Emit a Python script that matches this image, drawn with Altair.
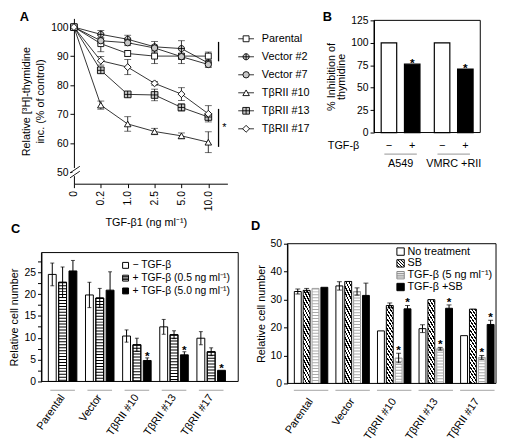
import altair as alt
import pandas as pd

FONT = "Liberation Sans"

# ---------------- Panel A data ----------------
doses = ["0", "0.2", "1.0", "2.5", "5.0", "10.0"]
series_a = ["Parental", "Vector #2", "Vector #7", "TβRII #10", "TβRII #13", "TβRII #17"]
parental = [100, 94.3, 90.9, 90.0, 90.0, 90.0]
parental_err = [0, 2.8, 1.0, 2.6, 2.6, 1.4]
vector2 = [100, 97.5, 95.8, 93.2, 92.6, 87.6]
vector2_err = [0, 1.3, 1.4, 1.8, 2.7, 1.0]
vector7 = [100, 95.3, 94.6, 92.8, 89.8, 87.1]
vector7_err = [0, 1.0, 1.0, 1.0, 1.0, 1.0]
rii10 = [100, 73.1, 66.6, 64.0, 62.5, 60.3]
rii10_err = [0, 1.4, 2.5, 1.1, 1.0, 3.6]
rii13 = [100, 85.1, 76.8, 76.6, 72.3, 69.0]
rii13_err = [0, 0.8, 0.8, 2.0, 1.2, 0.8]
rii17 = [100, 88.4, 86.2, 80.6, 76.9, 70.1]
rii17_err = [0, 1.5, 2.6, 0.6, 2.2, 2.8]
sig_lo = [88.2, 58.7]
sig_hi = [94.9, 71.8]
break_lo = [49.7, 48.0]
break_hi = [52.0, 50.3]

# ---------------- Panel B data ----------------
b_groups = ["A549", "VMRC +RII"]
b_signs = ["−", "+"]
b_minus = [100, 100]
b_plus = [76.2, 70.7]

# ---------------- Panel C data ----------------
c_groups = ["Parental", "Vector", "TβRII #10", "TβRII #13", "TβRII #17"]
c_legend = ["− TGF-β", "+ TGF-β (0.5 ng ml⁻¹)", "+ TGF-β (5.0 ng ml⁻¹)"]
c_none = [24.5, 19.8, 10.4, 12.5, 9.9]
c_none_err = [2.6, 2.9, 1.4, 1.7, 1.5]
c_low = [22.7, 19.1, 8.4, 10.7, 6.8]
c_low_err = [3.5, 2.2, 1.5, 0.9, 0.9]
c_high = [25.3, 20.9, 4.8, 6.1, 2.55]
c_high_err = [2.4, 4.2, 0.6, 0.7, 0.0]
c_high_star = [0, 0, 1, 1, 1]

# ---------------- Panel D data ----------------
d_groups = ["Parental", "Vector", "TβRII #10", "TβRII #13", "TβRII #17"]
d_legend = ["No treatment", "SB", "TGF-β (5 ng ml⁻¹)", "TGF-β +SB"]
d_none = [32.9, 34.9, 18.8, 19.6, 17.1]
d_none_err = [0.9, 1.5, 0, 1.4, 0]
d_sb = [33.3, 36.5, 27.9, 30.0, 26.6]
d_sb_err = [0.7, 0, 0.9, 0, 0]
d_tgf = [34.0, 32.9, 9.1, 12.4, 9.3]
d_tgf_err = [0, 1.3, 1.7, 0.5, 0.7]
d_both = [34.4, 31.5, 26.7, 26.9, 21.1]
d_both_err = [0, 4.4, 1.2, 1.2, 1.5]
d_star = [0, 0, 1, 1, 1]

# ---------------- layout (pixels inside the single canvas) ----------------
W, H = 489, 429
A_BOX = (64, 220, 7, 175)      # left, right, top, bottom
B_BOX = (369, 477, 9, 123)
C_BOX = (31, 231, 245, 376)
D_BOX = (281, 493, 236, 378)

CIRCLE_CROSS = "M-1,0A1,1,0,1,1,1,0A1,1,0,1,1,-1,0ZM-1,0H1M0,-1V1"
SQUARE_CROSS = "M-1,-1H1V1H-1ZM-1,0H1M0,-1V1"
STRIPE_SQ = "M-1,-1H1V1H-1ZM-1,-0.5H1M-1,0H1M-1,0.5H1"
shapes_a = ["square", CIRCLE_CROSS, "circle", "triangle-up", SQUARE_CROSS, "diamond"]
fills_a = ["white", "#c8c8c8", "#c8c8c8", "white", "#c8c8c8", "white"]
sizes_a = [36, 49, 30, 42, 40, 64]


def one():
    return pd.DataFrame({"k": [0]})


def label(txt, x, y, size=13, bold=True, align="left", baseline="top"):
    return alt.Chart(one()).mark_text(text=txt, fontSize=size, fontWeight="bold" if bold else "normal",
                                      align=align, baseline=baseline).encode(
        x=alt.value(x), y=alt.value(y))


def frame(box):
    l, r, t, b = box
    return alt.Chart(one()).mark_rect(fill="transparent", stroke="black", strokeWidth=1).encode(
        x=alt.value(l), x2=alt.value(r), y=alt.value(t), y2=alt.value(b))


def diag_gradient(n, duty=0.42):
    stops = []
    for k in range(n):
        a, b, c = k / n, (k + duty) / n, (k + 1) / n
        stops += [{"offset": a, "color": "black"}, {"offset": b, "color": "black"},
                  {"offset": b, "color": "white"}, {"offset": min(c, 1.0), "color": "white"}]
    return {"gradient": "linear", "x1": 1, "y1": 0, "x2": 0, "y2": 1, "stops": stops}


# ================= Panel A =================
rows = []
for name, vals, errs in zip(series_a,
                            [parental, vector2, vector7, rii10, rii13, rii17],
                            [parental_err, vector2_err, vector7_err, rii10_err, rii13_err, rii17_err]):
    for d, v, e in zip(doses, vals, errs):
        rows.append({"series": name, "dose": d, "value": v, "err": e, "lo": v - e, "hi": v + e})
df_a = pd.DataFrame(rows)

xA = alt.X("dose:N", sort=doses,
           scale=alt.Scale(type="point", domain=doses, range=[A_BOX[0], A_BOX[1]], padding=0.355, align=0),
           axis=alt.Axis(orient="bottom", offset=-(H - A_BOX[3]), title="TGF-β1 (ng ml⁻¹)", labelAngle=270,
                         labelPadding=3, titleX=137, titleY=33, titleBaseline="top"))
scaleA = alt.Scale(domain=[46, 103], range=[A_BOX[3], A_BOX[2]], nice=False, zero=False)
axisA = alt.Axis(orient="left", offset=-A_BOX[0], values=[50, 60, 70, 80, 90, 100],
                 title=["Relative [³H]-thymidine", "inc. (% of control)"],
                 titlePadding=5, titleLineHeight=15)


def yA(field):
    return alt.Y(field, scale=scaleA, axis=axisA)


shapeA = alt.Shape("series:N", scale=alt.Scale(domain=series_a, range=shapes_a), legend=None)
fillA = alt.Fill("series:N", scale=alt.Scale(domain=series_a, range=fills_a), legend=None)
sizeA = alt.Size("series:N", scale=alt.Scale(domain=series_a, range=sizes_a), legend=None)

baseA = alt.Chart(df_a)
errA = baseA.transform_filter("datum.err > 0")
a_layers = [
    baseA.mark_line(color="black", strokeWidth=0.8).encode(x=xA, y=yA("value:Q"), detail="series:N"),
    errA.mark_rule(color="black", strokeWidth=0.8).encode(x=xA, y=yA("lo:Q"), y2="hi:Q"),
    errA.mark_tick(orient="horizontal", size=7, thickness=0.8, color="black").encode(x=xA, y=yA("lo:Q")),
    errA.mark_tick(orient="horizontal", size=7, thickness=0.8, color="black").encode(x=xA, y=yA("hi:Q")),
    baseA.mark_point(opacity=1, stroke="black", strokeWidth=0.9).encode(
        x=xA, y=yA("value:Q"), shape=shapeA, fill=fillA, size=sizeA),
    alt.Chart(pd.DataFrame({"lo": sig_lo, "hi": sig_hi})).mark_rule(color="black", strokeWidth=1.3).encode(
        x=alt.value(211), y=yA("lo:Q"), y2="hi:Q"),
    alt.Chart(pd.DataFrame({"v": [65.2]})).mark_text(text="*", fontSize=11, baseline="middle").encode(
        x=alt.value(217), y=yA("v:Q")),
    alt.Chart(pd.DataFrame({"lo": [48.6], "hi": [51.4]})).mark_rule(color="white", strokeWidth=3).encode(
        x=alt.value(A_BOX[0]), y=yA("lo:Q"), y2="hi:Q"),
    alt.Chart(pd.DataFrame({"lo": break_lo, "hi": break_hi})).mark_rule(color="black", strokeWidth=0.9).encode(
        x=alt.value(A_BOX[0] - 4), x2=alt.value(A_BOX[0] + 6), y=yA("lo:Q"), y2="hi:Q"),
    label("A", 9, 0),
]
panel_a = alt.layer(*a_layers)

# legend for A
leg_df = pd.DataFrame({"series": series_a})
yL = alt.Y("series:N", sort=series_a,
           scale=alt.Scale(type="point", domain=series_a, range=[27.7, 119.2], padding=0), axis=None)
legend_a = alt.layer(
    alt.Chart(leg_df).mark_rule(color="black", strokeWidth=0.8).encode(x=alt.value(231), x2=alt.value(247), y=yL),
    alt.Chart(leg_df).mark_point(opacity=1, stroke="black", strokeWidth=0.9).encode(
        x=alt.value(239), y=yL, shape=shapeA, fill=fillA, size=sizeA),
    alt.Chart(leg_df).mark_text(align="left", baseline="middle", fontSize=11).encode(
        x=alt.value(255), y=yL, text="series:N"),
)

# ================= Panel B =================
rows = []
for g, m, p in zip(b_groups, b_minus, b_plus):
    rows.append({"group": g, "sign": b_signs[0], "value": m})
    rows.append({"group": g, "sign": b_signs[1], "value": p})
df_b = pd.DataFrame(rows)
xB = alt.X("group:N", sort=b_groups,
           scale=alt.Scale(domain=b_groups, range=[B_BOX[0], B_BOX[1]], paddingInner=0.27, paddingOuter=0.135),
           axis=None)
xoB = alt.XOffset("sign:N", scale=alt.Scale(domain=b_signs, paddingInner=0.333, paddingOuter=0))
yB = alt.Y("value:Q", scale=alt.Scale(domain=[0, 125], range=[B_BOX[3], B_BOX[2]], nice=False),
           axis=alt.Axis(orient="left", offset=-B_BOX[0], values=[0, 25, 50, 75, 100, 125],
                         title=["% Inhibition of", "thymidine"], titlePadding=4, titleLineHeight=11))
baseB = alt.Chart(df_b)
grp_b = pd.DataFrame({"group": b_groups})
panel_b = alt.layer(
    baseB.transform_filter(alt.datum.sign == b_signs[0]).mark_bar(
        fill="white", stroke="black", strokeWidth=1.2).encode(x=xB, xOffset=xoB, y=yB),
    baseB.transform_filter(alt.datum.sign == b_signs[1]).mark_bar(
        fill="black", stroke="black", strokeWidth=1.2).encode(x=xB, xOffset=xoB, y=yB),
    baseB.transform_filter(alt.datum.sign == b_signs[1]).mark_text(
        text="*", fontSize=12, fontWeight="bold", baseline="alphabetic", dy=3).encode(x=xB, xOffset=xoB, y=yB),
    baseB.mark_text(fontSize=11, baseline="middle").encode(x=xB, xOffset=xoB, y=alt.value(137), text="sign:N"),
    alt.Chart(grp_b).mark_tick(orient="horizontal", size=33, thickness=1.2, color="#888").encode(
        x=xB, y=alt.value(145)),
    alt.Chart(grp_b).mark_text(fontSize=11, baseline="middle").encode(x=xB, y=alt.value(155), text="group:N"),
    label("TGF-β", B_BOX[0] - 15, 137, size=11, bold=False, align="right", baseline="middle"),
    frame(B_BOX),
    label("B", 317, 0),
)

# ================= Panel C =================
rows = []
for i, g in enumerate(c_groups):
    rows.append({"group": g, "treat": "none", "value": c_none[i], "err": c_none_err[i], "star": 0})
    rows.append({"group": g, "treat": "low", "value": c_low[i], "err": c_low_err[i], "star": 0})
    rows.append({"group": g, "treat": "high", "value": c_high[i], "err": c_high_err[i], "star": c_high_star[i]})
df_c = pd.DataFrame(rows)
df_c["lo"] = df_c["value"] - df_c["err"]
df_c["hi"] = df_c["value"] + df_c["err"]
df_c["zero"] = 0

xC = alt.X("group:N", sort=c_groups,
           scale=alt.Scale(domain=c_groups, range=[C_BOX[0], C_BOX[1]], paddingInner=0.232,
                           paddingOuter=0.265, align=0.35),
           axis=alt.Axis(orient="bottom", offset=-(H - C_BOX[3]), title=None, labelAngle=305, ticks=False,
                         domain=False, labelPadding=14, labelFontSize=11))
xoC = alt.XOffset("treat:N", scale=alt.Scale(domain=["none", "low", "high"], paddingInner=0.238, paddingOuter=0))
scaleC = alt.Scale(domain=[0, 29.5], range=[C_BOX[3], C_BOX[2]], nice=False)
axisC = alt.Axis(orient="left", offset=-C_BOX[0],
                 values=[0, 2.5, 5, 7.5, 10, 12.5, 15, 17.5, 20, 22.5, 25, 27.5],
                 labelExpr="datum.value % 5 == 0 ? datum.label : ''",
                 title="Relative cell number", titlePadding=5)


def yC(field):
    return alt.Y(field, scale=scaleC, axis=axisC)


baseC = alt.Chart(df_c)
errC = baseC.transform_filter("datum.err > 0")
panel_c = alt.layer(
    baseC.transform_filter("datum.treat != 'high'").mark_bar(fill="white", stroke="black", strokeWidth=1).encode(
        x=xC, xOffset=xoC, y=yC("value:Q")),
    baseC.transform_filter("datum.treat == 'low'").mark_rule(
        color="black", strokeWidth=8, strokeDash=[1, 2], strokeCap="butt").encode(
        x=xC, xOffset=xoC, y=yC("value:Q"), y2="zero:Q"),
    baseC.transform_filter("datum.treat == 'low'").mark_bar(fill="transparent", stroke="black", strokeWidth=1).encode(
        x=xC, xOffset=xoC, y=yC("value:Q")),
    baseC.transform_filter("datum.treat == 'high'").mark_bar(fill="black", stroke="black", strokeWidth=1).encode(
        x=xC, xOffset=xoC, y=yC("value:Q")),
    errC.mark_rule(color="black", strokeWidth=1).encode(x=xC, xOffset=xoC, y=yC("lo:Q"), y2="hi:Q"),
    errC.mark_tick(orient="horizontal", size=4, thickness=1, color="black").encode(
        x=xC, xOffset=xoC, y=yC("lo:Q")),
    errC.mark_tick(orient="horizontal", size=4, thickness=1, color="black").encode(
        x=xC, xOffset=xoC, y=yC("hi:Q")),
    baseC.transform_filter("datum.star == 1").mark_text(
        text="*", fontSize=12, fontWeight="bold", baseline="alphabetic", dy=2).encode(
        x=xC, xOffset=xoC, y=yC("hi:Q")),
    alt.Chart(pd.DataFrame({"group": c_groups})).mark_tick(
        orient="horizontal", size=25, thickness=1.3, color="#999").encode(x=xC, y=alt.value(385)),
    frame(C_BOX),
    label("C", 0, 215),
)

df_cl = pd.DataFrame({"label": c_legend, "k": [0, 1, 2]})
yCL = alt.Y("label:N", sort=c_legend,
            scale=alt.Scale(type="point", domain=c_legend, range=[258, 284], padding=0), axis=None)
baseCL = alt.Chart(df_cl)
legend_c = alt.layer(
    baseCL.transform_filter("datum.k == 0").mark_point(shape="square", size=36, fill="white", stroke="black",
                                                       strokeWidth=1, opacity=1).encode(x=alt.value(116.5), y=yCL),
    baseCL.transform_filter("datum.k == 1").mark_point(shape=STRIPE_SQ, size=36, fill="white", stroke="black",
                                                       strokeWidth=1, opacity=1).encode(x=alt.value(116.5), y=yCL),
    baseCL.transform_filter("datum.k == 2").mark_point(shape="square", size=36, fill="black", stroke="black",
                                                       strokeWidth=1, opacity=1).encode(x=alt.value(116.5), y=yCL),
    baseCL.mark_text(align="left", baseline="middle", fontSize=10.5).encode(
        x=alt.value(123.5), y=yCL, text="label:N"),
)

# ================= Panel D =================
rows = []
for i, g in enumerate(d_groups):
    rows.append({"group": g, "treat": "none", "value": d_none[i], "err": d_none_err[i], "star": 0})
    rows.append({"group": g, "treat": "sb", "value": d_sb[i], "err": d_sb_err[i], "star": 0})
    rows.append({"group": g, "treat": "tgf", "value": d_tgf[i], "err": d_tgf_err[i], "star": d_star[i]})
    rows.append({"group": g, "treat": "both", "value": d_both[i], "err": d_both_err[i], "star": d_star[i]})
df_d = pd.DataFrame(rows)
df_d["lo"] = df_d["value"] - df_d["err"]
df_d["hi"] = df_d["value"] + df_d["err"]
df_d["zero"] = 0

xD = alt.X("group:N", sort=d_groups,
           scale=alt.Scale(domain=d_groups, range=[D_BOX[0], D_BOX[1]], paddingInner=0.195,
                           paddingOuter=0.1065, align=0.78),
           axis=alt.Axis(orient="bottom", offset=-(H - D_BOX[3]), title=None, labelAngle=305, ticks=False,
                         domain=False, labelPadding=16, labelFontSize=11))
xoD = alt.XOffset("treat:N", scale=alt.Scale(domain=["none", "sb", "tgf", "both"], paddingInner=0.222,
                                             paddingOuter=0))
scaleD = alt.Scale(domain=[0, 50], range=[D_BOX[3], D_BOX[2]], nice=False)
axisD = alt.Axis(orient="left", offset=-D_BOX[0], values=[0, 10, 20, 30, 40, 50],
                 title="Relative cell number", titlePadding=4)


def yD(field):
    return alt.Y(field, scale=scaleD, axis=axisD)


baseD = alt.Chart(df_d)
errD = baseD.transform_filter("datum.err > 0")
panel_d = alt.layer(
    baseD.transform_filter("datum.treat == 'none'").mark_bar(fill="white", stroke="black", strokeWidth=1).encode(
        x=xD, xOffset=xoD, y=yD("value:Q")),
    baseD.transform_filter("datum.treat == 'sb'").mark_bar(fill=diag_gradient(32), stroke="black",
                                                           strokeWidth=1).encode(
        x=xD, xOffset=xoD, y=yD("value:Q")),
    baseD.transform_filter("datum.treat == 'tgf'").mark_bar(fill="white", stroke="#999", strokeWidth=1).encode(
        x=xD, xOffset=xoD, y=yD("value:Q")),
    baseD.transform_filter("datum.treat == 'tgf'").mark_rule(
        color="#aaa", strokeWidth=7, strokeDash=[1, 2], strokeCap="butt").encode(
        x=xD, xOffset=xoD, y=yD("value:Q"), y2="zero:Q"),
    baseD.transform_filter("datum.treat == 'both'").mark_bar(fill="black", stroke="black", strokeWidth=1).encode(
        x=xD, xOffset=xoD, y=yD("value:Q")),
    errD.mark_rule(color="black", strokeWidth=1).encode(x=xD, xOffset=xoD, y=yD("lo:Q"), y2="hi:Q"),
    errD.mark_tick(orient="horizontal", size=5, thickness=1, color="black").encode(
        x=xD, xOffset=xoD, y=yD("lo:Q")),
    errD.mark_tick(orient="horizontal", size=5, thickness=1, color="black").encode(
        x=xD, xOffset=xoD, y=yD("hi:Q")),
    baseD.transform_filter("datum.star == 1").mark_text(
        text="*", fontSize=12, fontWeight="bold", baseline="alphabetic", dy=1).encode(
        x=xD, xOffset=xoD, y=yD("hi:Q")),
    alt.Chart(pd.DataFrame({"group": d_groups})).mark_tick(
        orient="horizontal", size=35, thickness=1.3, color="#999").encode(x=xD, y=alt.value(385)),
    frame(D_BOX),
    label("D", 244, 212),
)

df_dl = pd.DataFrame({"label": d_legend, "k": [0, 1, 2, 3]})
yDL = alt.Y("label:N", sort=d_legend,
            scale=alt.Scale(type="point", domain=d_legend, range=[244, 280], padding=0), axis=None)
baseDL = alt.Chart(df_dl)
legend_d = alt.layer(
    baseDL.transform_filter("datum.k == 0").mark_point(shape="square", size=56, fill="white", stroke="black",
                                                       strokeWidth=1, opacity=1).encode(x=alt.value(396), y=yDL),
    baseDL.transform_filter("datum.k == 1").mark_point(shape="square", size=56, fill=diag_gradient(5),
                                                       stroke="black", strokeWidth=1, opacity=1).encode(
        x=alt.value(396), y=yDL),
    baseDL.transform_filter("datum.k == 2").mark_point(shape=STRIPE_SQ, size=56, fill="white", stroke="#888",
                                                       strokeWidth=1, opacity=1).encode(x=alt.value(396), y=yDL),
    baseDL.transform_filter("datum.k == 3").mark_point(shape="square", size=56, fill="black", stroke="black",
                                                       strokeWidth=1, opacity=1).encode(x=alt.value(396), y=yDL),
    baseDL.mark_text(align="left", baseline="middle", fontSize=11).encode(
        x=alt.value(403), y=yDL, text="label:N"),
)

chart = alt.layer(panel_a, legend_a, panel_b, panel_c, legend_c, panel_d, legend_d).resolve_scale(
    x="independent", y="independent", xOffset="independent"
).properties(
    width=W, height=H, padding=0, view=alt.ViewBackground(stroke="transparent")
).configure(font=FONT).configure_axis(
    labelFont=FONT, titleFont=FONT, labelFontSize=10.5, titleFontSize=11, titleFontWeight="normal",
    labelColor="black", titleColor="black", domainColor="black", tickColor="black", grid=False,
    tickSize=4, domainWidth=1, tickWidth=1, labelPadding=2
).configure_text(font=FONT, color="black")

chart.save("out.html", embed_options={"renderer": "svg", "actions": False})
